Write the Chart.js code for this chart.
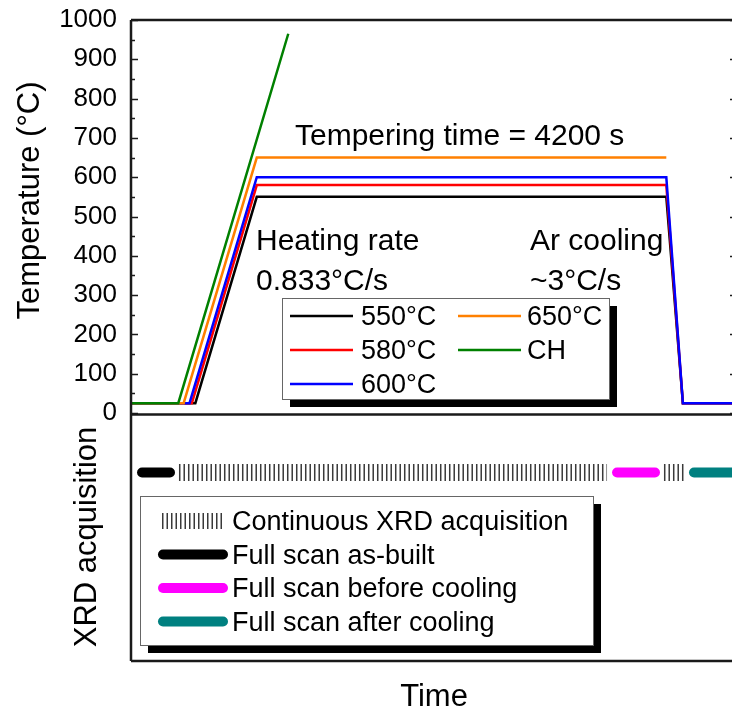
<!DOCTYPE html>
<html>
<head>
<meta charset="utf-8">
<script src="https://cdn.jsdelivr.net/npm/chart.js@4"></script>
<style>
  html, body { margin: 0; padding: 0; background: #fff; overflow: hidden; }
  canvas { display: block; }
</style>
</head>
<body>
<canvas id="heatChart" width="745" height="713"></canvas>
<script>
// temperature profiles: time (s) and temperature (°C)
const time550 = [0, 660, 1290, 5490, 5660, 6215];
const temp550 = [25, 25, 550, 550, 25, 25];
const time580 = [0, 624, 1290, 5490, 5660, 6215];
const temp580 = [25, 25, 580, 580, 25, 25];
const time600 = [0, 600, 1290, 5490, 5660, 6215];
const temp600 = [25, 25, 600, 600, 25, 25];
const time650 = [0, 540, 1290, 5490];
const temp650 = [25, 25, 650, 650];
const timeCH = [0, 485, 1613];
const tempCH = [25, 25, 965];

// XRD acquisition windows (s)
const asBuiltScan = [113, 400];
const beforeCoolingScan = [4985, 5374];
const afterCoolingScan = [5774, 6400];
const continuousRun1 = [492, 4882];
const continuousRun2 = [5466, 5682];
const xrdRow = 0.76;

const tempTicks = [0, 1000, 100];
const timeRange = [0, 6215];

const FONT = '"Liberation Sans", Arial, sans-serif';
Chart.defaults.font.family = FONT;
Chart.defaults.color = '#000';

const toPoints = (xs, ys) => xs.map((x, i) => ({ x: x, y: ys[i] }));
const rowPoints = (span) => span.map(x => ({ x: x, y: xrdRow }));

const tempSet = (label, xs, ys, color) => ({
  label: label,
  data: toPoints(xs, ys),
  yAxisID: 'yTemp',
  borderColor: color,
  borderWidth: 2.5,
  pointRadius: 0,
  fill: false,
  tension: 0
});

const scanSet = (label, span, color) => ({
  label: label,
  data: rowPoints(span),
  yAxisID: 'yXrd',
  borderColor: color,
  borderWidth: 10,
  borderCapStyle: 'round',
  pointRadius: 0
});

const continuousSet = (span) => ({
  label: 'Continuous XRD acquisition',
  data: rowPoints(span),
  yAxisID: 'yXrd',
  borderColor: '#3a3a3a',
  borderWidth: 17,
  borderDash: [1.5, 3],
  borderCapStyle: 'butt',
  pointRadius: 0
});

// index 0 is drawn on top
const datasets = [
  tempSet('CH', timeCH, tempCH, '#008000'),
  tempSet('650°C', time650, temp650, '#ff8000'),
  tempSet('600°C', time600, temp600, '#0000ff'),
  tempSet('580°C', time580, temp580, '#ff0000'),
  tempSet('550°C', time550, temp550, '#000000'),
  scanSet('Full scan as-built', asBuiltScan, '#000000'),
  scanSet('Full scan before cooling', beforeCoolingScan, '#ff00ff'),
  scanSet('Full scan after cooling', afterCoolingScan, '#008080'),
  continuousSet(continuousRun1),
  continuousSet(continuousRun2)
];

const tempLegendOrder = ['550°C', '580°C', '600°C', '650°C', 'CH'];
const xrdLegendOrder = ['Continuous XRD acquisition', 'Full scan as-built',
  'Full scan before cooling', 'Full scan after cooling'];

function findSet(label) {
  return datasets.find(d => d.label === label);
}

function shadowBox(ctx, x, y, w, h) {
  ctx.fillStyle = '#000';
  ctx.fillRect(x + 8, y + 8, w, h);
  ctx.fillStyle = '#fff';
  ctx.fillRect(x, y, w, h);
  ctx.strokeStyle = '#666';
  ctx.lineWidth = 1;
  ctx.strokeRect(x + 0.5, y + 0.5, w, h);
}

// frame, inward ticks, notes and the two legends
const decorations = {
  id: 'decorations',
  afterDraw(chart) {
    const { ctx, chartArea: a, scales } = chart;
    const yT = scales.yTemp;
    ctx.save();

    // panel frames
    ctx.strokeStyle = '#1a1a1a';
    ctx.lineWidth = 2.5;
    ctx.beginPath();
    ctx.moveTo(a.left, a.top); ctx.lineTo(a.right, a.top);
    ctx.moveTo(a.left, yT.bottom + 1.5); ctx.lineTo(a.right, yT.bottom + 1.5);
    ctx.moveTo(a.left, a.bottom); ctx.lineTo(a.right, a.bottom);
    ctx.moveTo(a.left, a.top); ctx.lineTo(a.left, a.bottom);
    ctx.moveTo(a.right, a.top); ctx.lineTo(a.right, a.bottom);
    ctx.stroke();

    // inward ticks on both temperature axes
    ctx.lineWidth = 1.5;
    ctx.beginPath();
    for (let v = tempTicks[0]; v <= tempTicks[1]; v += tempTicks[2] / 2) {
      const y = Math.round(yT.getPixelForValue(v)) + 0.5;
      const len = v % tempTicks[2] === 0 ? 7 : 4;
      ctx.moveTo(a.left, y); ctx.lineTo(a.left + len, y);
      ctx.moveTo(a.right, y); ctx.lineTo(a.right - len, y);
    }
    ctx.stroke();

    // axis title of the temperature panel
    ctx.fillStyle = '#000';
    ctx.save();
    ctx.translate(30, 200.5);
    ctx.rotate(-Math.PI / 2);
    ctx.font = '31px ' + FONT;
    ctx.textAlign = 'center';
    ctx.textBaseline = 'middle';
    ctx.fillText('Temperature (°C)', 0, 0);
    ctx.restore();

    // notes
    ctx.font = '30px ' + FONT;
    ctx.textAlign = 'left';
    ctx.textBaseline = 'alphabetic';
    ctx.fillText('Tempering time = 4200 s', 295, 145);
    ctx.fillText('Heating rate', 256, 250);
    ctx.fillText('0.833°C/s', 256, 290);
    ctx.fillText('Ar cooling', 530, 250);
    ctx.fillText('~3°C/s', 530, 290);

    // temperature legend
    shadowBox(ctx, 282, 298, 327, 101);
    ctx.font = '27px ' + FONT;
    tempLegendOrder.forEach((label, i) => {
      const col = i < 3 ? 0 : 1;
      const row = i < 3 ? i : i - 3;
      const y = 316 + row * 34;
      const x0 = col === 0 ? 290 : 458;
      const set = findSet(label);
      ctx.strokeStyle = set.borderColor;
      ctx.lineWidth = 2.5;
      ctx.beginPath();
      ctx.moveTo(x0, y); ctx.lineTo(x0 + 63, y);
      ctx.stroke();
      ctx.fillStyle = '#000';
      ctx.fillText(label, col === 0 ? 361 : 527, y + 9);
    });

    // XRD legend
    shadowBox(ctx, 140, 496, 453, 149);
    xrdLegendOrder.forEach((label, i) => {
      const y = 521 + i * 33.5;
      const set = findSet(label);
      ctx.strokeStyle = set.borderColor;
      ctx.lineWidth = i === 0 ? 16 : set.borderWidth;
      ctx.lineCap = i === 0 ? 'butt' : 'round';
      ctx.setLineDash(i === 0 ? set.borderDash : []);
      ctx.beginPath();
      if (i === 0) { ctx.moveTo(162, y); ctx.lineTo(222, y); }
      else { ctx.moveTo(163, y); ctx.lineTo(223, y); }
      ctx.stroke();
      ctx.setLineDash([]);
      ctx.fillStyle = '#000';
      ctx.fillText(label, 232, y + 9);
    });

    ctx.restore();
  }
};

new Chart(document.getElementById('heatChart'), {
  type: 'line',
  data: { datasets: datasets },
  options: {
    responsive: false,
    animation: false,
    devicePixelRatio: 1,
    events: [],
    layout: { padding: { top: 20, right: 8, bottom: 0, left: 0 } },
    scales: {
      x: {
        type: 'linear',
        min: timeRange[0],
        max: timeRange[1],
        ticks: { display: false },
        grid: { display: false, drawTicks: false },
        border: { display: false },
        title: {
          display: true,
          text: 'Time',
          font: { size: 31, lineHeight: 1 },
          padding: { top: 21, bottom: 0 }
        },
        afterFit(scale) { scale.height = 52; }
      },
      yXrd: {
        type: 'linear',
        position: 'left',
        stack: 'panels',
        stackWeight: 248,
        min: 0,
        max: 1,
        ticks: { display: false },
        grid: { display: false, drawTicks: false },
        border: { display: false },
        title: {
          display: true,
          text: 'XRD acquisition',
          font: { size: 31, lineHeight: 1 },
          padding: { top: 71.5, bottom: 0 }
        },
        afterFit(scale) { scale.width = 131; }
      },
      yTemp: {
        type: 'linear',
        position: 'left',
        stack: 'panels',
        stackWeight: 393,
        min: tempTicks[0],
        max: tempTicks[1],
        ticks: {
          stepSize: tempTicks[2],
          autoSkip: false,
          callback: (v) => String(v),
          font: { size: 26 },
          color: '#000',
          padding: 14
        },
        grid: { display: false, drawTicks: false },
        border: { display: false },
        afterFit(scale) {
          scale.width = 131;
          scale.paddingTop = 0;
          scale.paddingBottom = 0;
        }
      }
    },
    plugins: {
      legend: { display: false },
      tooltip: { enabled: false }
    }
  },
  plugins: [decorations]
});
</script>
</body>
</html>
